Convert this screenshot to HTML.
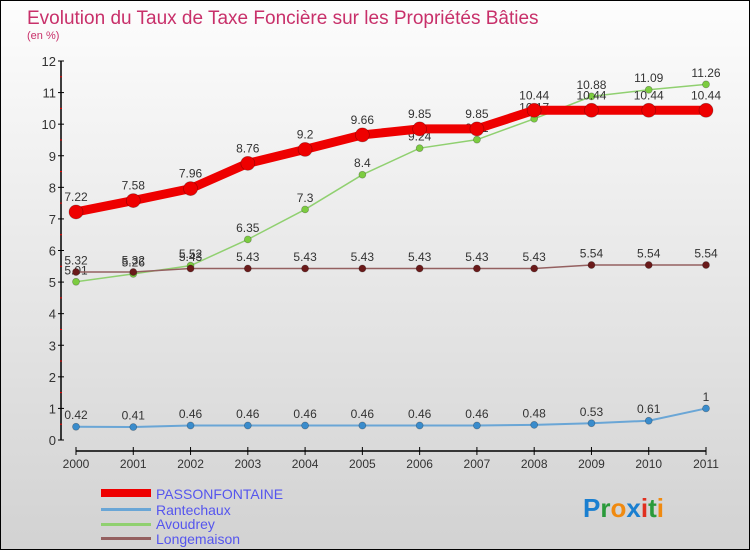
<!DOCTYPE html>
<html><head><meta charset="utf-8"><style>
body{margin:0}
#c{width:748px;height:548px;border:1px solid #000;background:linear-gradient(#fdfdfd,#d2d2d2);position:relative;font-family:"Liberation Sans",sans-serif;overflow:hidden}
svg text{font-family:"Liberation Sans",sans-serif}
</style></head><body>
<div id="c">
<svg id="s" width="748" height="548" xmlns="http://www.w3.org/2000/svg">
<text x="26" y="23" font-size="19" fill="#c8306a">Evolution du Taux de Taxe Foncière sur les Propriétés Bâties</text>
<text x="26" y="38" font-size="11" fill="#c8306a">(en %)</text>
<g id="axes"></g><g id="series"></g>
<g>
<rect x="100" y="488" width="50" height="8" fill="#e00"/>
<text x="155" y="498" font-size="14" fill="#5555ee">PASSONFONTAINE</text>
<rect x="100" y="507" width="50" height="3" fill="#6aa6d6"/>
<text x="155" y="514" font-size="14" fill="#5555ee">Rantechaux</text>
<rect x="100" y="522" width="50" height="3" fill="#90d070"/>
<text x="155" y="528" font-size="14" fill="#5555ee">Avoudrey</text>
<rect x="100" y="536" width="50" height="3" fill="#946060"/>
<text x="155" y="543" font-size="14" fill="#5555ee">Longemaison</text>
</g>
<g font-size="26" font-weight="bold">
<text x="582" y="516"><tspan fill="#1a7fd0">P</tspan><tspan fill="#2a9a3a">r</tspan><tspan fill="#f08a10">o</tspan><tspan fill="#1a7fd0">x</tspan><tspan fill="#e03020">i</tspan><tspan fill="#2a9a3a">t</tspan><tspan fill="#f08a10">i</tspan></text>
</g>
</svg></div>
<script>
const years=["2000","2001","2002","2003","2004","2005","2006","2007","2008","2009","2010","2011"];
const yTicks=[0,1,2,3,4,5,6,7,8,9,10,11,12];
const passonfontaine=[7.22,7.58,7.96,8.76,9.2,9.66,9.85,9.85,10.44,10.44,10.44,10.44];
const rantechaux=[0.42,0.41,0.46,0.46,0.46,0.46,0.46,0.46,0.48,0.53,0.61,1];
const avoudrey=[5.01,5.26,5.52,6.35,7.3,8.4,9.24,9.51,10.17,10.88,11.09,11.26];
const longemaison=[5.32,5.32,5.43,5.43,5.43,5.43,5.43,5.43,5.43,5.54,5.54,5.54];
const NS="http://www.w3.org/2000/svg";
const X=i=>75+i*(630/(years.length-1));
const Y=v=>439-v*(379/12);
function mk(t,a,p){const e=document.createElementNS(NS,t);for(const k in a)e.setAttribute(k,a[k]);p.appendChild(e);return e;}
const ax=document.getElementById('axes');
const yl=mk('line',{x1:60,y1:Y(12),x2:60,y2:Y(0),stroke:'#000','stroke-width':1.5},ax);


yTicks.forEach(v=>{
 mk('line',{x1:57,y1:Y(v),x2:63,y2:Y(v),stroke:'#000'},ax);
 if(v<12)mk('line',{x1:59,y1:Y(v+0.5),x2:61,y2:Y(v+0.5),stroke:'#e00'},ax);
 const t=mk('text',{x:55,y:Y(v)+5,'font-size':13,fill:'#333','text-anchor':'end'},ax);t.textContent=v;
 
 
});
const xl=mk('line',{x1:75,y1:450,x2:705,y2:450,stroke:'#000','stroke-width':1.5},ax);


years.forEach((y,i)=>{
 mk('line',{x1:X(i),y1:446,x2:X(i),y2:454,stroke:'#000'},ax);
 const t=mk('text',{x:X(i),y:467,'font-size':12,fill:'#333','text-anchor':'middle'},ax);t.textContent=y;
 
 
});
const sg=document.getElementById('series');
function series(d,name,color,w,r,dot){
 const g=mk('g',{},sg);
 
 
 const p=mk('polyline',{points:d.map((v,i)=>X(i)+','+Y(v)).join(' '),fill:'none',stroke:color,'stroke-width':w},g);
 
 
 d.forEach((v,i)=>{
  const c=mk('circle',{cx:X(i),cy:Y(v),r:r,fill:dot,stroke:'rgba(0,0,0,0.3)','stroke-width':0.7},g);
  
  
  const t=mk('text',{x:X(i),y:Y(v)-r-4,'font-size':12,fill:'#333','text-anchor':'middle'},g);t.textContent=v;
  
  
 });
}
series(rantechaux,'rantechaux','#6aa6d6',2,3.5,'#3a8ccc');
series(avoudrey,'avoudrey','#90d070',1.5,3.5,'#7ccc40');
series(longemaison,'longemaison','#946060',1.5,3.5,'#6a1a1a');
series(passonfontaine,'passonfontaine','#e00',9,7,'#e00');
</script>
</body></html>
